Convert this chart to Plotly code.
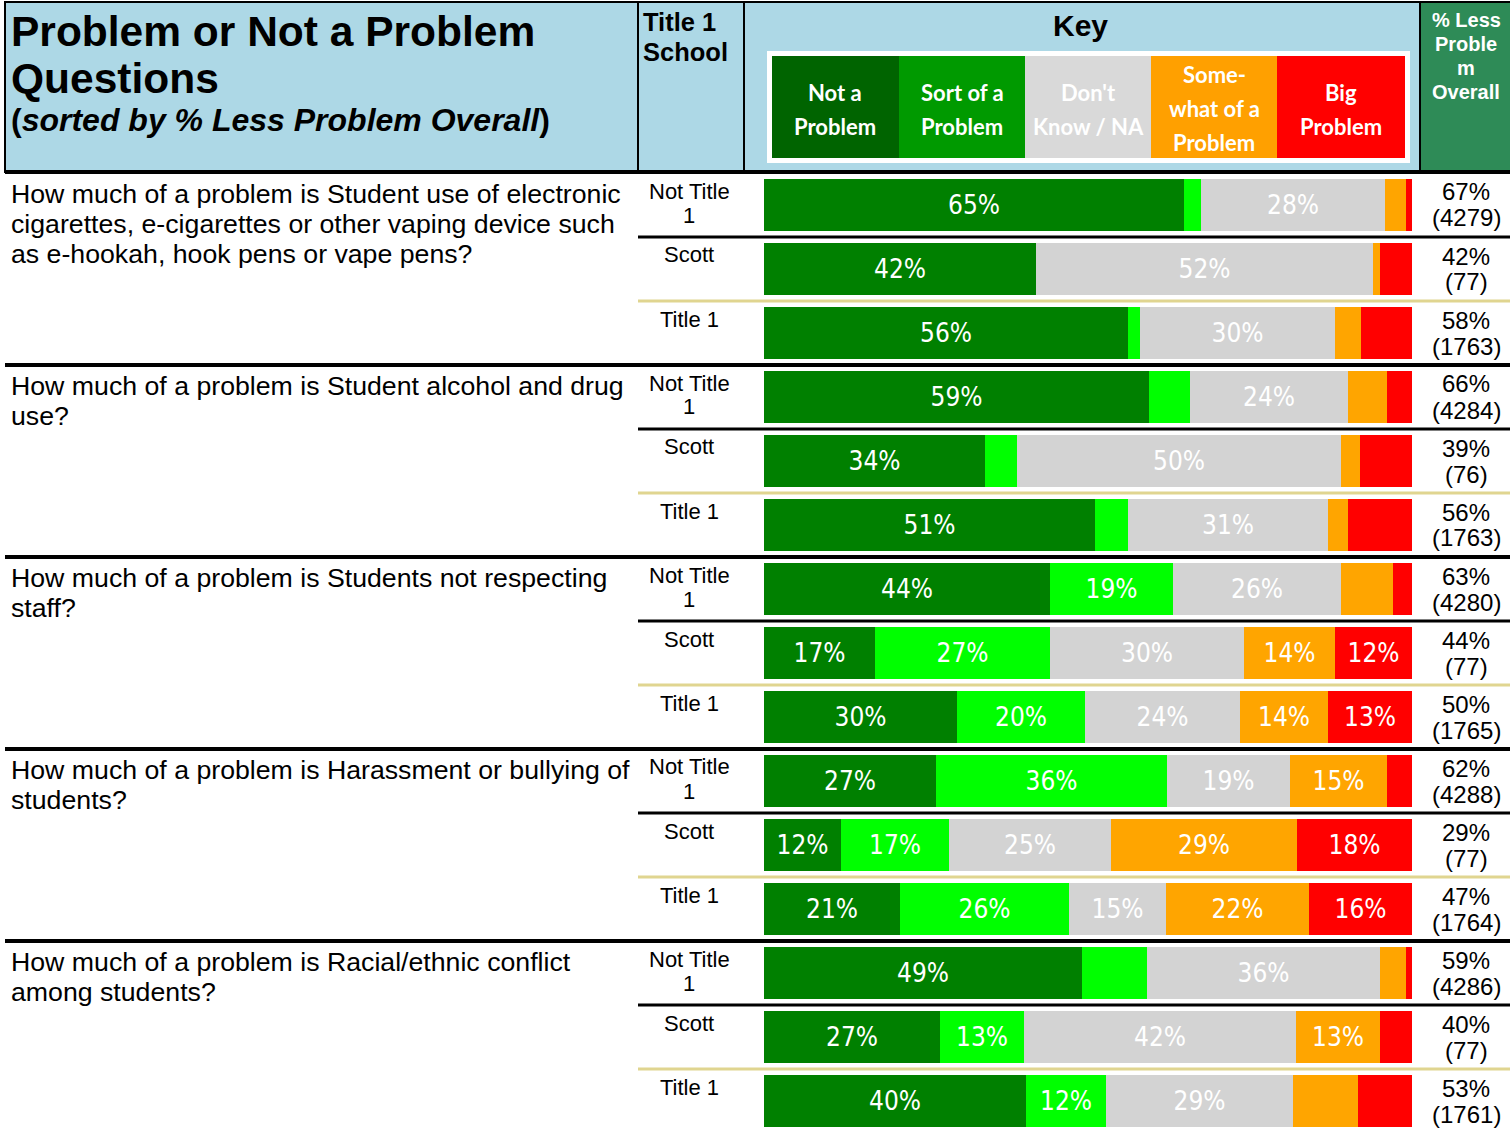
import plotly.graph_objects as go

W, H = 1510, 1131

# ---------------- data ----------------
questions = [
    ["How much of a problem is Student use of electronic",
     "cigarettes, e-cigarettes or other vaping device such",
     "as e-hookah, hook pens or vape pens?"],
    ["How much of a problem is Student alcohol and drug", "use?"],
    ["How much of a problem is Students not respecting", "staff?"],
    ["How much of a problem is Harassment or bullying of", "students?"],
    ["How much of a problem is Racial/ethnic conflict", "among students?"],
]
schools = [["Not Title", "1"], ["Scott"], ["Title 1"]]
responses = ["Not a Problem", "Sort of a Problem", "Don't Know / NA",
             "Somewhat of a Problem", "Big Problem"]

not_a_problem = [64.8, 42.0, 56.1, 59.4, 34.1, 51.1, 44.1, 17.1, 29.8, 26.6, 11.9, 21.0, 49.1, 27.1, 40.4]
sort_of_problem = [2.6, 0.0, 2.0, 6.3, 5.0, 5.0, 19.0, 27.0, 19.8, 35.6, 16.7, 26.1, 10.0, 13.0, 12.3]
dont_know = [28.4, 52.0, 30.0, 24.4, 50.0, 31.0, 26.0, 30.0, 23.8, 19.0, 24.9, 15.0, 36.0, 42.0, 29.0]
somewhat_problem = [3.2, 1.0, 4.0, 6.0, 2.9, 3.0, 8.0, 14.0, 13.7, 14.9, 28.8, 22.0, 4.0, 13.0, 10.0]
big_problem = [1.0, 5.0, 7.9, 3.9, 8.0, 9.9, 2.9, 11.9, 12.9, 3.9, 17.7, 15.9, 0.9, 4.9, 8.3]

less_problem_pct = [67, 42, 58, 66, 39, 56, 63, 44, 50, 62, 29, 47, 59, 40, 53]
n_responses = [4279, 77, 1763, 4284, 76, 1763, 4280, 77, 1765, 4288, 77, 1764, 4286, 77, 1761]

series = [not_a_problem, sort_of_problem, dont_know, somewhat_problem, big_problem]
bar_colors = ["#008000", "#00FF00", "#D3D3D3", "#FFA500", "#FF0000"]
key_colors = ["#006400", "#009A00", "#D9D9D9", "#FFA000", "#FF0000"]
key_labels = [["Not a", "Problem"], ["Sort of a", "Problem"], ["Don't", "Know / NA"],
              ["Some-", "what of a", "Problem"], ["Big", "Problem"]]

# ---------------- layout helpers ----------------
ARIAL = "Liberation Sans, Arial, sans-serif"
NARROW = "Liberation Sans Narrow, Arial Narrow, DejaVu Sans Condensed, sans-serif"
KEYFONT = "Lato, Open Sans, sans-serif"

ROW0 = 205      # pixel centre of first bar
PITCH = 64      # pixel pitch of rows
BAR_H = 52

def X(px):
    return px / W

def Y(py):
    return 1 - py / H

n_rows = len(not_a_problem)
rows = list(range(n_rows))

fig = go.Figure()
for name, vals, col in zip(responses, series, bar_colors):
    fig.add_trace(go.Bar(
        x=vals, y=rows, orientation="h", name=name,
        marker=dict(color=col, line=dict(width=0)),
        width=BAR_H / PITCH,
        text=[f"{round(v)}%" if v >= 11.5 else "" for v in vals],
        textposition="inside", insidetextanchor="middle", textangle=0,
        textfont=dict(color="white", size=26, family=NARROW),
        hoverinfo="skip", showlegend=False,
    ))

shapes = []
annotations = []

def rect(x0, x1, y0, y1, fill, lw=0, lc="black"):
    shapes.append(dict(type="rect", xref="paper", yref="paper",
                       x0=X(x0), x1=X(x1), y0=Y(y1), y1=Y(y0),
                       fillcolor=fill, line=dict(width=lw, color=lc), layer="below"))

def hline(x0, x1, y, lw, color):
    shapes.append(dict(type="line", xref="paper", yref="paper",
                       x0=X(x0), x1=X(x1), y0=Y(y), y1=Y(y),
                       line=dict(width=lw, color=color)))

def text(s, x, y, size, color="black", family=ARIAL, xanchor="center", bold=False):
    if bold:
        s = f"<b>{s}</b>"
    if xanchor == "left":
        x -= 3  # compensate annotation padding
    annotations.append(dict(text=s, x=X(x), y=Y(y), xref="paper", yref="paper",
                            xanchor=xanchor, yanchor="middle", showarrow=False,
                            font=dict(size=size, color=color, family=family)))

# header cells
rect(5, 638, 2, 172, "#ADD8E6", 2)
rect(638, 744, 2, 172, "#ADD8E6", 2)
rect(744, 1420, 2, 172, "#ADD8E6", 2)
rect(1420, 1512, 2, 172, "#2E8B57", 2)
hline(5, 1510, 172, 4, "black")

# title
text("Problem or Not a Problem", 12, 32, 42.5, xanchor="left", bold=True)
text("Questions", 12, 78, 42.5, xanchor="left", bold=True)
text("(<i>sorted by % Less Problem Overall</i>)", 12, 120, 32, xanchor="left", bold=True)
text("Title 1", 644, 22, 25.5, xanchor="left", bold=True)
text("School", 644, 52, 25.5, xanchor="left", bold=True)
text("Key", 1080, 26, 30, bold=True)

# key
rect(767, 1410, 51, 163, "white")
kx = [772, 899, 1025, 1151, 1277, 1405]
for i in range(5):
    rect(kx[i], kx[i + 1], 56, 158, key_colors[i])
    lines = key_labels[i]
    ys = [92, 126] if len(lines) == 2 else [75, 109, 143]
    for ln, yy in zip(lines, ys):
        text(ln, (kx[i] + kx[i + 1]) / 2, yy, 22, color="white", family=KEYFONT, bold=True)

for ln, yy in zip(["% Less", "Proble", "m", "Overall"], [20, 44, 68, 92]):
    text(ln, 1466, yy, 20, color="white", bold=True)

# rows
for k, q in enumerate(questions):
    gtop = 173 + 3 * PITCH * k
    for j, ln in enumerate(q):
        text(ln, 12, gtop + 21 + 30 * j, 26.7, xanchor="left")
    for s, lines in enumerate(schools):
        rtop = gtop + PITCH * s
        for j, ln in enumerate(lines):
            text(ln, 689, rtop + 18 + 24 * j, 22)
        idx = 3 * k + s
        text(f"{less_problem_pct[idx]}%", 1466, rtop + 19, 24)
        text(f"({n_responses[idx]})", 1466, rtop + 45, 24)
    hline(638, 1510, gtop + PITCH, 3, "black")
    hline(638, 1510, gtop + 2 * PITCH, 3, "#E0D590")
    if k > 0:
        hline(5, 1510, gtop, 4, "black")

y_top = -ROW0 / PITCH
y_bot = (H - ROW0) / PITCH

fig.update_layout(
    width=W, height=H,
    margin=dict(l=0, r=0, t=0, b=0),
    paper_bgcolor="white", plot_bgcolor="white",
    barmode="stack", bargap=0,
    font=dict(family=ARIAL),
    xaxis=dict(domain=[X(764), X(1412)], range=[0, 100], visible=False, fixedrange=True),
    yaxis=dict(domain=[0, 1], range=[y_bot, y_top], visible=False, fixedrange=True),
    shapes=shapes, annotations=annotations,
    showlegend=False,
)

fig.write_html("out.html", config={"displayModeBar": False},
               post_script="document.body.style.margin='0';")
